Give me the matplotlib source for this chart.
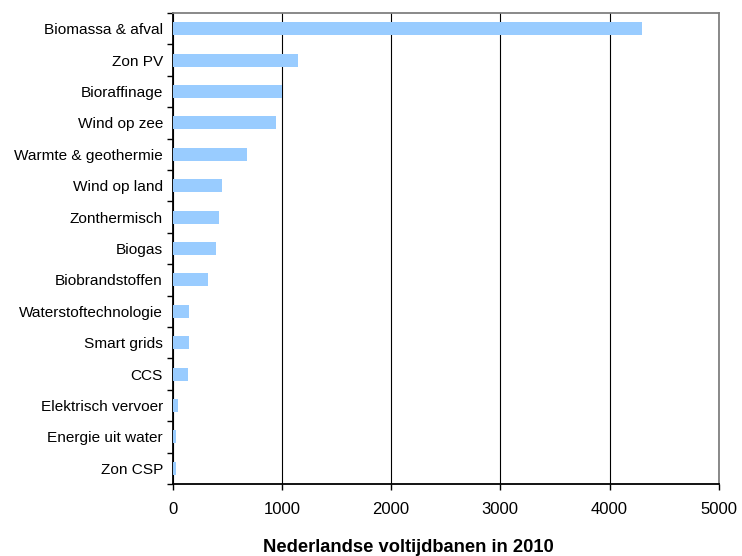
import matplotlib
matplotlib.use("Agg")
import matplotlib.pyplot as plt
import numpy as np

plt.rcParams['font.family'] = ['Liberation Sans', 'DejaVu Sans']

categories = [
    "Biomassa & afval", "Zon PV", "Bioraffinage", "Wind op zee",
    "Warmte & geothermie", "Wind op land", "Zonthermisch", "Biogas",
    "Biobrandstoffen", "Waterstoftechnologie", "Smart grids", "CCS",
    "Elektrisch vervoer", "Energie uit water", "Zon CSP",
]
jobs_2010 = [4300, 1150, 1000, 945, 680, 450, 425, 400, 320, 150, 150, 140, 45, 30, 30]
x_ticks = [0, 1000, 2000, 3000, 4000, 5000]

fig = plt.figure(figsize=(7.42, 5.56), dpi=100)
ax = fig.add_axes([172.7 / 742, 1 - 484 / 556, (718.7 - 172.7) / 742, (484 - 13) / 556])

n = len(categories)
pos = np.arange(n)
ax.barh(pos, jobs_2010, height=0.42, color="#99CCFF", zorder=3)

ax.set_xlim(0, 5000)
ax.set_ylim(n - 0.5, -0.5)
ax.set_xticks(x_ticks)
ax.set_xticklabels([str(t) for t in x_ticks], fontsize=12)
ax.set_yticks(pos)
ax.set_yticklabels(categories, fontsize=11.1)
ax.tick_params(axis='y', length=0, pad=7)
ax.set_yticks(np.arange(n + 1) - 0.5, minor=True)
ax.tick_params(axis='y', which='minor', length=4, width=1, color='black', direction='out')
ax.tick_params(axis='x', length=4, width=1, color='black', direction='out', pad=9)

ax.grid(axis='x', color='black', linewidth=0.8, zorder=1)
ax.set_axisbelow(True)

for s in ['top', 'right']:
    ax.spines[s].set_color('#808080')
    ax.spines[s].set_linewidth(1.3)
for s in ['left', 'bottom']:
    ax.spines[s].set_color('black')
    ax.spines[s].set_linewidth(1.3)

ax.set_xlabel("Nederlandse voltijdbanen in 2010", fontsize=13.2, fontweight='bold')
ax.xaxis.set_label_coords((408 - 172.7) / (718.7 - 172.7), -(548 - 484) / (484 - 13))
ax.xaxis.label.set_verticalalignment('center')

fig.savefig("out.png", dpi=100)
